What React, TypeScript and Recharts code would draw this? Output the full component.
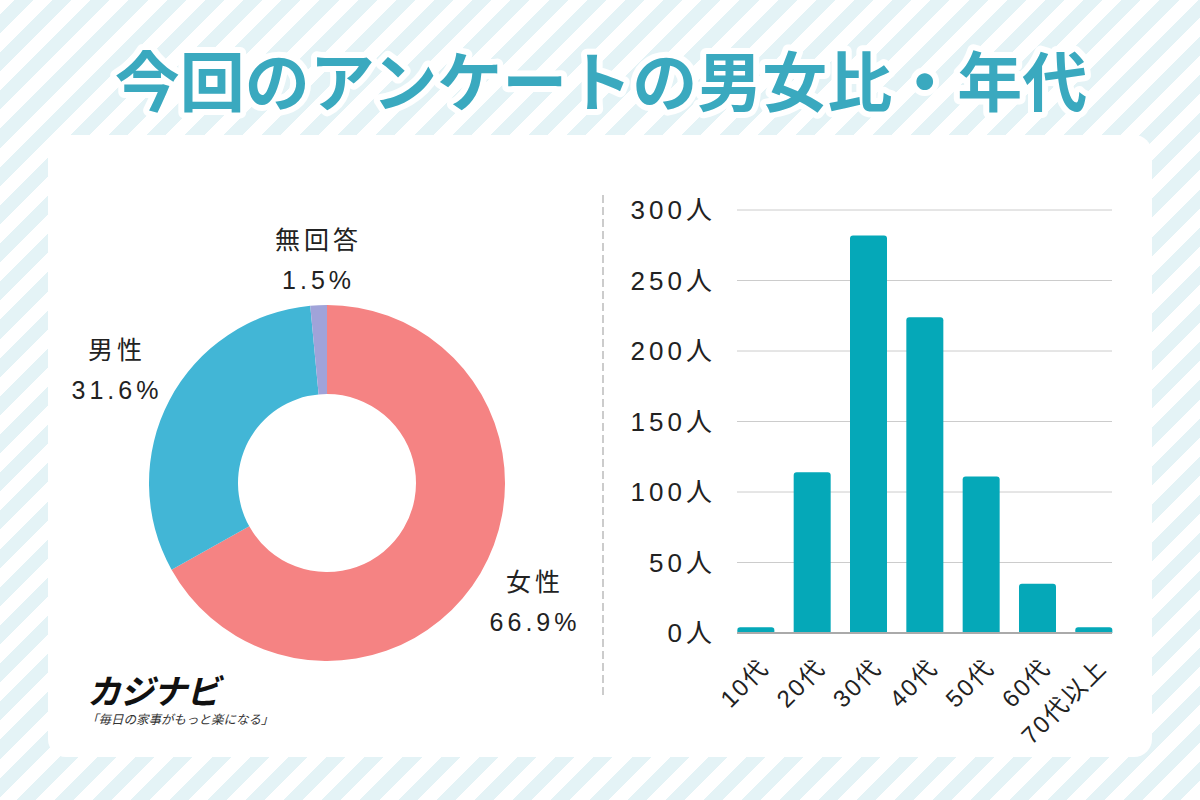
import React from 'react';
import { PieChart, Pie, Cell, BarChart, Bar, XAxis, YAxis, CartesianGrid } from 'recharts';

const GENDER_NAMES = ['女性', '男性', '無回答'];
const GENDER_SHARES = [66.9, 31.6, 1.5];
const GENDER_COLORS = ['#f58383', '#42b6d6', '#a0a3d9'];

const AGE_GROUPS = ['10代', '20代', '30代', '40代', '50代', '60代', '70代以上'];
const AGE_COUNTS = [4, 114, 282, 224, 111, 35, 4];
const Y_TICKS = [0, 50, 100, 150, 200, 250, 300];

const TITLE = '今回のアンケートの男女比・年代';
const FONT = '"Noto Sans CJK JP", "Noto Sans", sans-serif';
const LABEL_FONT = '"Liberation Sans", "Noto Sans CJK JP", sans-serif';
const TEXT = '#222';

const genderData = GENDER_NAMES.map((name, i) => ({ name, value: GENDER_SHARES[i] }));
const ageData = AGE_GROUPS.map((age, i) => ({ age, count: AGE_COUNTS[i] }));

const RADIAN = Math.PI / 180;

// labels sit a little further out on the sides than at the top
function PieLabel(props: any) {
  const { cx, cy, midAngle, name, value } = props;
  const c = Math.cos(-midAngle * RADIAN);
  const s = Math.sin(-midAngle * RADIAN);
  const r = 220 + 22 * Math.abs(c);
  const x = cx + r * c + 2;
  const y = cy + r * s - 2;
  return (
    <text x={x} y={y} textAnchor="middle" fill={TEXT} fontSize={25} fontFamily={LABEL_FONT} letterSpacing={4}>
      <tspan x={x} y={y - 20} dominantBaseline="central">{name}</tspan>
      <tspan x={x} y={y + 20} dominantBaseline="central">{value.toFixed(1)}%</tspan>
    </text>
  );
}

function AgeTick(props: any) {
  const { x, y, payload } = props;
  return (
    <text
      x={0}
      y={0}
      transform={`translate(${x + 15},${y + 36}) rotate(-45)`}
      textAnchor="end"
      fill={TEXT}
      fontSize={24}
      fontFamily={LABEL_FONT}
      letterSpacing={2}
    >
      {payload.value}
    </text>
  );
}

export default function App() {
  return (
    <div
      style={{
        position: 'absolute',
        left: 0,
        top: 0,
        width: 1200,
        height: 800,
        overflow: 'hidden',
        fontFamily: FONT,
        background: 'repeating-linear-gradient(-45deg, #ffffff 0px, #ffffff 13.5px, #e4f3f6 13.5px, #e4f3f6 27px)',
      }}
    >
      <svg width={1200} height={130} style={{ position: 'absolute', left: 0, top: 0 }}>
        <text
          x={601}
          y={78}
          textAnchor="middle"
          dominantBaseline="central"
          fontSize={65}
          fontWeight={700}
          fontFamily={FONT}
          fill="#3aa9bf"
          stroke="#ffffff"
          strokeWidth={12}
          strokeLinejoin="round"
          paintOrder="stroke"
        >
          {TITLE}
        </text>
      </svg>

      <div
        style={{
          position: 'absolute',
          left: 48,
          top: 135,
          width: 1104,
          height: 622,
          background: '#fff',
          borderRadius: 18,
        }}
      />

      <div style={{ position: 'absolute', left: 0, top: 135 }}>
        <PieChart width={600} height={622} margin={{ top: 0, right: 0, bottom: 0, left: 0 }}>
          <Pie
            data={genderData}
            dataKey="value"
            nameKey="name"
            cx={327}
            cy={348}
            innerRadius={89}
            outerRadius={178}
            startAngle={90}
            endAngle={-270}
            stroke="none"
            label={PieLabel}
            labelLine={false}
            isAnimationActive={false}
          >
            {genderData.map((d, i) => (
              <Cell key={d.name} fill={GENDER_COLORS[i]} />
            ))}
          </Pie>
        </PieChart>
      </div>

      <svg width={10} height={520} style={{ position: 'absolute', left: 598, top: 190 }}>
        <line x1={5} y1={5} x2={5} y2={505} stroke="#cccccc" strokeWidth={2} strokeDasharray="8 4" />
      </svg>

      <div style={{ position: 'absolute', left: 610, top: 180 }}>
        <BarChart
          width={540}
          height={590}
          data={ageData}
          margin={{ top: 30, right: 38, left: 0, bottom: 37 }}
        >
          <CartesianGrid vertical={false} stroke="#cccccc" strokeWidth={1} />
          <XAxis
            dataKey="age"
            axisLine={{ stroke: '#aaaaaa', strokeWidth: 2 }}
            tickLine={false}
            tickSize={0}
            tickMargin={0}
            interval={0}
            height={100}
            padding={{ left: -9.65, right: -9.65 }}
            tick={<AgeTick />}
          />
          <YAxis
            domain={[0, 300]}
            ticks={Y_TICKS}
            axisLine={false}
            tickLine={false}
            tickSize={0}
            tickMargin={21}
            width={127}
            tickFormatter={(v) => `${v}人`}
            tick={{ fontSize: 26, fill: TEXT, fontFamily: LABEL_FONT, letterSpacing: 4 }}
          />
          <Bar dataKey="count" fill="#05a8b8" barSize={37} radius={[3, 3, 0, 0]} isAnimationActive={false} />
        </BarChart>
      </div>

      <div
        style={{
          position: 'absolute',
          left: 87,
          top: 673,
          fontSize: 34,
          fontWeight: 700,
          fontStyle: 'italic',
          color: '#111',
          lineHeight: '34px',
          letterSpacing: -1,
        }}
      >
        カジナビ
      </div>
      <div
        style={{
          position: 'absolute',
          left: 86,
          top: 711,
          fontSize: 12.5,
          fontStyle: 'italic',
          color: '#333',
          lineHeight: '15px',
        }}
      >
        「毎日の家事がもっと楽になる」
      </div>
    </div>
  );
}
